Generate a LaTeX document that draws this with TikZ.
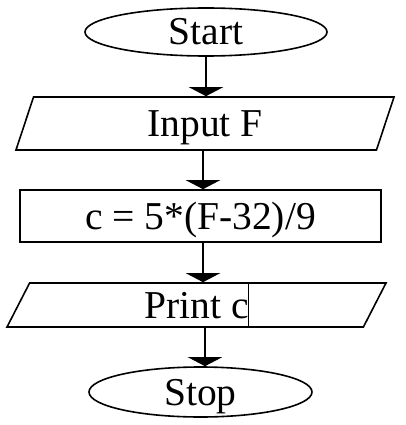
\documentclass[tikz,border=0pt]{standalone}
\usepackage{fontspec}
\setmainfont{Liberation Serif}
\usepackage{tikz}
\usetikzlibrary{shapes.geometric, arrows.meta, positioning, calc}

\begin{document}
\begin{tikzpicture}[x=1pt,y=-1pt,
    every node/.style={font=\fontsize{39.5}{42}\selectfont, text height=26pt, text depth=0pt, inner sep=0pt},
    term/.style={draw, ellipse, line width=1.6pt},
    io/.style={draw, trapezium, trapezium stretches body, line width=1.6pt},
    proc/.style={draw, rectangle, line width=1.6pt},
    flow/.style={line width=2pt, -{Triangle[width=34pt,length=9pt]}}]
  \useasboundingbox (0,0) rectangle (405,425);

  \node[term, minimum width=242pt, minimum height=48pt] (start) at (206,32) {Start};
  \node[io, trapezium left angle=56, trapezium right angle=124,
        minimum width=378pt, minimum height=53pt] (input) at (205,123.5) {Input F};
  \node[proc, minimum width=361pt, minimum height=52pt] (calc) at (200.5,216) {c = 5*(F-32)/9};
  \node[io, trapezium left angle=49, trapezium right angle=131,
        minimum width=379pt, minimum height=44pt] (print) at (196.5,305) {Print c};
  \node[term, minimum width=223pt, minimum height=50pt] (stop) at (200.5,392) {Stop};

  % cursor left in the print box
  \draw[line width=0.6pt] (248,283) -- (248,327);

  \draw[flow] (start.south) -- (start.south |- input.north);
  \draw[flow] ($(input.center |- input.south)+(-2,0)$) -- ($(input.center |- calc.north)+(-2,0)$);
  \draw[flow] ($(calc.south)+(2.5,0)$) -- ($(calc.south |- print.north)+(2.5,0)$);
  \draw[flow] ($(stop.north |- print.south)+(4.5,0)$) -- ($(stop.north)+(4.5,0)$);
\end{tikzpicture}
\end{document}
